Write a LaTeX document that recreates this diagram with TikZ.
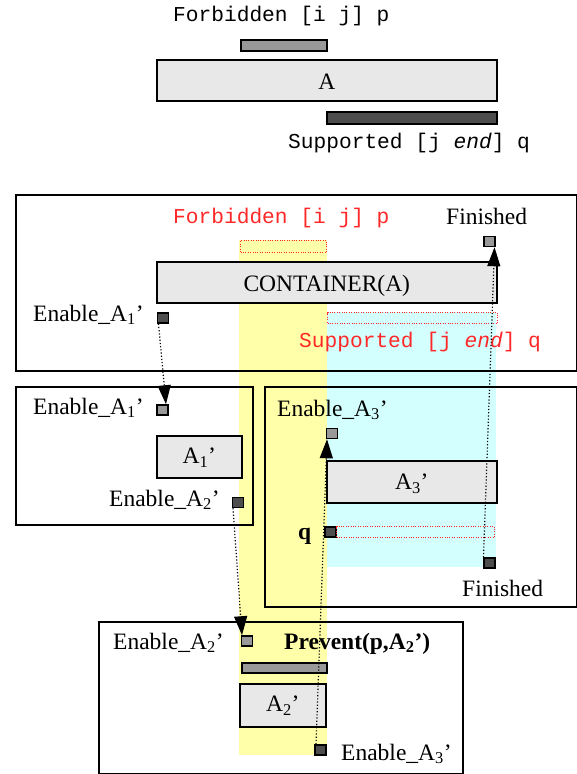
\documentclass[tikz,border=0pt]{standalone}
\usepackage{fontspec}
\setmainfont{Liberation Serif}
\setmonofont{Liberation Mono}
\usetikzlibrary{arrows.meta}
\definecolor{ylw}{RGB}{255,255,170}
\definecolor{cyn}{RGB}{212,255,255}
\definecolor{redtxt}{RGB}{255,40,40}
\definecolor{lightfill}{RGB}{232,232,232}
\definecolor{midfill}{RGB}{153,153,153}
\definecolor{darkfill}{RGB}{77,77,77}
\newcommand\serifsz{\fontsize{23.5}{28}\selectfont}
\newcommand\monosz{\ttfamily\fontsize{21.2}{25}\selectfont}
\begin{document}
\begin{tikzpicture}[x=1pt,y=-1pt,
  box/.style={draw, line width=1.6pt, inner sep=0pt, anchor=north west},
  frame/.style={box},
  act/.style={box, fill=lightfill, font=\serifsz},
  midbar/.style={box, fill=midfill},
  darkbar/.style={box, fill=darkfill},
  reddot/.style={draw=redtxt, dash pattern=on 1pt off 1.4pt, line width=1pt, inner sep=0pt, anchor=north west},
  sq/.style={draw, line width=1.5pt, inner sep=0pt, minimum width=11pt, minimum height=10pt},
  sqmid/.style={sq, fill=midfill},
  sqdark/.style={sq, fill=darkfill},
  lbl/.style={inner sep=0pt, anchor=base west, font=\serifsz},
  mono/.style={inner sep=0pt, anchor=base west, font=\monosz},
  link/.style={dash pattern=on 1.2pt off 2pt, line width=1.2pt, -{Triangle[length=19pt,width=13pt]}},
]
\useasboundingbox (0,0) rectangle (577,774);
% background bands
\fill[ylw] (239,240) rectangle (327,755);
\fill[cyn] (327,312) rectangle (496,567);
% top
\node[mono] (t1) at (173,21) {Forbidden [i j] p};
\node[midbar, minimum width=86pt, minimum height=11pt] (fbar) at (240,39) {};
\node[act, minimum width=340pt, minimum height=41pt, text height=19pt, text depth=0pt] (A) at (156,59) {A};
\node[darkbar, minimum width=170pt, minimum height=12pt] (sbar) at (326,111) {};
\node[mono] (t2) at (288,148) {Supported [j \textit{end}] q};
% box 1
\node[frame, minimum width=561pt, minimum height=176pt] (box1) at (15,194) {};
\node[mono, text=redtxt] (t3) at (173,223) {Forbidden [i j] p};
\node[lbl] (fin1) at (446,224) {Finished};
\node[sqmid] (finTop) at (489.5,241.5) {};
\node[reddot, minimum width=86pt, minimum height=12pt] (rf) at (240,240) {};
\node[act, minimum width=340pt, minimum height=41pt, text height=19pt, text depth=0pt] (cont) at (156,261) {CONTAINER(A)};
\node[lbl] (l1) at (33,321) {Enable\_A\textsubscript{1}’};
\node[sqdark] (e1top) at (163,318) {};
\node[reddot, minimum width=170pt, minimum height=11pt] (rs) at (327,312) {};
\node[mono, text=redtxt] (t4) at (299,347) {Supported [j \textit{end}] q};
% left box
\node[frame, minimum width=237pt, minimum height=138pt] (box2) at (15,386) {};
\node[lbl] (l2) at (33,414) {Enable\_A\textsubscript{1}’};
\node[sqmid] (e1left) at (162.5,410) {};
\node[act, minimum width=85pt, minimum height=42pt, text height=16pt, text depth=3pt] (A1) at (156,435) {A\textsubscript{1}’};
\node[lbl] (l3) at (109,506) {Enable\_A\textsubscript{2}’};
\node[sqdark] (e2left) at (238,502.5) {};
% right box
\node[frame, minimum width=312pt, minimum height=220pt] (box3) at (264,386) {};
\node[lbl] (l4) at (277,416) {Enable\_A\textsubscript{3}’};
\node[sqmid] (e3right) at (332,433.5) {};
\node[act, minimum width=170pt, minimum height=42pt, text height=17pt, text depth=1pt] (A3) at (326,460) {A\textsubscript{3}’};
\node[lbl, font=\serifsz\bfseries] (lq) at (298,539) {q};
\node[sqdark] (qsq) at (330.5,532) {};
\node[reddot, minimum width=158pt, minimum height=11pt] (rq) at (336,526) {};
\node[sqdark] (finR) at (489.5,563) {};
\node[lbl] (fin2) at (462,596) {Finished};
% bottom box
\node[frame, minimum width=364pt, minimum height=152pt] (box4) at (98,621) {};
\node[lbl] (l5) at (113,649) {Enable\_A\textsubscript{2}’};
\node[sqmid] (e2bot) at (247,641) {};
\node[lbl, font=\serifsz\bfseries] (prev) at (284,649) {Prevent(p,A\textsubscript{2}’)};
\node[midbar, minimum width=85pt, minimum height=10pt] (pbar) at (241,662) {};
\node[act, minimum width=86pt, minimum height=43pt, text height=16pt, text depth=3pt] (A2) at (239,683) {A\textsubscript{2}’};
\node[sqdark] (e3bot) at (320.5,750) {};
\node[lbl] (l6) at (341,760) {Enable\_A\textsubscript{3}’};
% links
\draw[link] ([xshift=-4.5pt]e1top.south) -- ([xshift=3.5pt]e1left.north);
\draw[link] ([xshift=-5pt]e2left.south) -- ([xshift=-5pt]e2bot.north);
\draw[link] ([xshift=-4.5pt]e3bot.north) -- ([xshift=-5pt]e3right.south);
\draw[link] ([xshift=-6pt]finR.north) -- ([xshift=5pt]finTop.south);
\end{tikzpicture}
\end{document}
